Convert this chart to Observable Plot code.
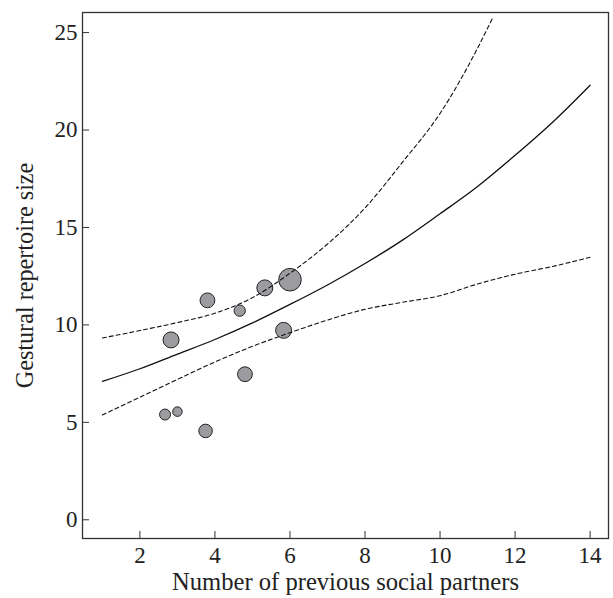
<!DOCTYPE html>
<html><head><meta charset="utf-8">
<script src="https://cdn.jsdelivr.net/npm/d3@7"></script>
<script src="https://cdn.jsdelivr.net/npm/@observablehq/plot@0.6"></script>
<style>body{margin:0;background:#fff}</style>
</head><body><div id="chart"></div>
<script>
// Observed individuals
const partners = [2.67, 3.00, 2.83, 3.75, 3.80, 4.66, 4.80, 5.33, 5.83, 6.00];
const repertoire = [5.40, 5.55, 9.23, 4.56, 11.26, 10.73, 7.47, 11.90, 9.72, 12.32];
const weight = [3.3, 2.5, 7, 5, 6, 3.5, 6, 7, 7, 14];

// Fitted curve and confidence limits
const fitX = [1, 2, 3, 4, 5, 6, 7, 8, 9, 10, 11, 12, 13, 14];
const fitY = [7.1, 7.75, 8.5, 9.25, 10.1, 11.05, 12.05, 13.15, 14.35, 15.7, 17.1, 18.7, 20.4, 22.3];
const upperX = [1, 2, 3, 4, 5, 6, 7, 8, 9, 10, 11, 11.42];
const upperY = [9.33, 9.71, 10.12, 10.6, 11.4, 12.65, 14.15, 16.0, 18.35, 20.85, 24.2, 25.83];
const lowerX = [1, 2, 3, 4, 5, 6, 7, 8, 9, 10, 11, 12, 13, 14];
const lowerY = [5.38, 6.29, 7.2, 8.1, 8.9, 9.6, 10.25, 10.8, 11.16, 11.5, 12.1, 12.6, 13.0, 13.47];

const xTicks = [2, 4, 6, 8, 10, 12, 14];
const yTicks = [0, 5, 10, 15, 20, 25];
const xTitle = "Number of previous social partners";
const yTitle = "Gestural repertoire size";

const points = partners.map((p, i) => ({x: p, y: repertoire[i], w: weight[i]}));
const fit = fitX.map((x, i) => ({x, y: fitY[i]}));
const upper = upperX.map((x, i) => ({x, y: upperY[i]}));
const lower = lowerX.map((x, i) => ({x, y: lowerY[i]}));

const font = "'Liberation Serif', 'Times New Roman', serif";

const chart = Plot.plot({
  width: 613,
  height: 598,
  marginLeft: 82,
  marginRight: 5,
  marginTop: 12,
  marginBottom: 60,
  style: {fontFamily: font, fontSize: "23px", color: "#222", background: "#fff"},
  x: {domain: [0.47, 14.49]},
  y: {domain: [-0.96, 26.03]},
  r: {domain: [0, 14], range: [0, 11.3]},
  marks: [
    Plot.dot(points, {x: "x", y: "y", r: "w", fill: "#9c9ca0", stroke: "#222", strokeWidth: 1}),
    Plot.line(fit, {x: "x", y: "y", curve: "monotone-x", stroke: "#111", strokeWidth: 1.3}),
    Plot.line(upper, {x: "x", y: "y", curve: "monotone-x", stroke: "#111", strokeWidth: 1.1, strokeDasharray: "4,3"}),
    Plot.line(lower, {x: "x", y: "y", curve: "monotone-x", stroke: "#111", strokeWidth: 1.1, strokeDasharray: "4,3"}),
    Plot.frame({stroke: "#333", strokeWidth: 1.3}),
    Plot.axisX(xTicks, {tickSize: -7, tickPadding: 15, label: null, fontSize: 23, stroke: "#333"}),
    Plot.axisY(yTicks, {tickSize: -7, tickPadding: 12, label: null, fontSize: 23, stroke: "#333"}),
    Plot.text([xTitle], {frameAnchor: "bottom", dy: 44, fontSize: 24.6, textAnchor: "middle", lineAnchor: "middle", fill: "#222"}),
    Plot.text([yTitle], {frameAnchor: "left", dx: -57, rotate: -90, fontSize: 24.2, textAnchor: "middle", lineAnchor: "middle", fill: "#222"})
  ]
});
document.getElementById("chart").appendChild(chart);
</script>
</body></html>
